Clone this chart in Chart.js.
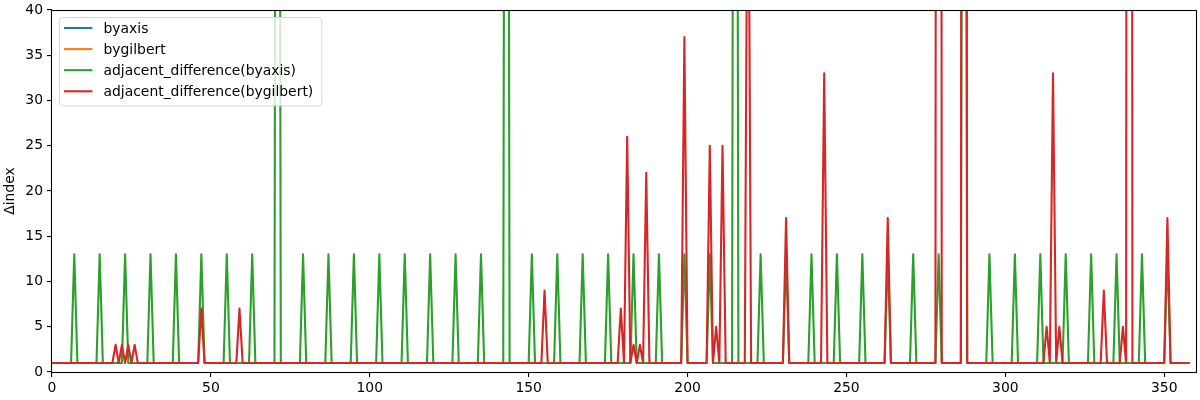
<!DOCTYPE html>
<html>
<head>
<meta charset="utf-8">
<script src="https://cdn.jsdelivr.net/npm/chart.js@4/dist/chart.umd.min.js"></script>
<style>
  html, body { margin: 0; padding: 0; background: #fff; }
  #wrap { width: 1200px; height: 400px; }
</style>
</head>
<body>
<div id="wrap"><canvas id="chart" width="1200" height="400"></canvas></div>
<script>
const FONT = 'DejaVu Sans';
const FS = 13.9;

const xTicks = [0, 50, 100, 150, 200, 250, 300, 350];
const yTicks = [0, 5, 10, 15, 20, 25, 30, 35, 40];

// raw index series: they sit far above the 0..40 window, none of them is visible
const byaxis = [];
const bygilbert = [];

// one value per step, 0..358
const diffByaxis = [
  1,1,1,1,1,1,1,13,1,1,1,1,1,1,1,13,1,1,1,1,
  1,1,1,13,1,1,1,1,1,1,1,13,1,1,1,1,1,1,1,13,
  1,1,1,1,1,1,1,13,1,1,1,1,1,1,1,13,1,1,1,1,
  1,1,1,13,1,1,1,1,1,1,1,200,1,1,1,1,1,1,1,13,
  1,1,1,1,1,1,1,13,1,1,1,1,1,1,1,13,1,1,1,1,
  1,1,1,13,1,1,1,1,1,1,1,13,1,1,1,1,1,1,1,13,
  1,1,1,1,1,1,1,13,1,1,1,1,1,1,1,13,1,1,1,1,
  1,1,1,200,1,1,1,1,1,1,1,13,1,1,1,1,1,1,1,13,
  1,1,1,1,1,1,1,13,1,1,1,1,1,1,1,13,1,1,1,1,
  1,1,1,13,1,1,1,1,1,1,1,13,1,1,1,1,1,1,1,13,
  1,1,1,1,1,1,1,13,1,1,1,1,1,1,1,200,1,1,1,1,
  1,1,1,13,1,1,1,1,1,1,1,13,1,1,1,1,1,1,1,13,
  1,1,1,1,1,1,1,13,1,1,1,1,1,1,1,13,1,1,1,1,
  1,1,1,13,1,1,1,1,1,1,1,13,1,1,1,1,1,1,1,13,
  1,1,1,1,1,1,1,200,1,1,1,1,1,1,1,13,1,1,1,1,
  1,1,1,13,1,1,1,1,1,1,1,13,1,1,1,1,1,1,1,13,
  1,1,1,1,1,1,1,13,1,1,1,1,1,1,1,13,1,1,1,1,
  1,1,1,13,1,1,1,1,1,1,1,13,1,1,1,1,1,1,1
];

const diffBygilbert = [
  1,1,1,1,1,1,1,1,1,1,1,1,1,1,1,1,1,1,1,1,
  3,1,3,1,3,1,3,1,1,1,1,1,1,1,1,1,1,1,1,1,
  1,1,1,1,1,1,1,7,1,1,1,1,1,1,1,1,1,1,1,7,
  1,1,1,1,1,1,1,1,1,1,1,1,1,1,1,1,1,1,1,1,
  1,1,1,1,1,1,1,1,1,1,1,1,1,1,1,1,1,1,1,1,
  1,1,1,1,1,1,1,1,1,1,1,1,1,1,1,1,1,1,1,1,
  1,1,1,1,1,1,1,1,1,1,1,1,1,1,1,1,1,1,1,1,
  1,1,1,1,1,1,1,1,1,1,1,1,1,1,1,9,1,1,1,1,
  1,1,1,1,1,1,1,1,1,1,1,1,1,1,1,1,1,1,1,7,
  1,26,1,3,1,3,1,22,1,1,1,1,1,1,1,1,1,1,1,37,
  1,1,1,1,1,1,1,25,1,5,1,25,1,1,1,1,1,1,1,70,
  1,1,1,1,1,1,1,1,1,1,1,17,1,1,1,1,1,1,1,1,
  1,1,1,33,1,1,1,1,1,1,1,1,1,1,1,1,1,1,1,1,
  1,1,1,17,1,1,1,1,1,1,1,1,1,1,1,1,1,1,1,500,
  1,1,1,1,1,1,1,300,1,1,1,1,1,1,1,1,1,1,1,1,
  1,1,1,1,1,1,1,1,1,1,1,1,1,5,1,33,1,5,1,1,
  1,1,1,1,1,1,1,1,1,1,1,9,1,1,1,1,1,5,1,500,
  1,1,1,1,1,1,1,1,1,1,1,17,1,1,1,1,1,1,1
];

function toPoints(values) {
  return values.map((v, i) => ({ x: i, y: v }));
}

function lineSet(label, values, color, order) {
  return {
    label: label,
    data: toPoints(values),
    borderColor: color,
    backgroundColor: color,
    borderWidth: 2.1,
    borderJoinStyle: 'round',
    pointRadius: 0,
    tension: 0,
    fill: false,
    clip: 0,
    order: order
  };
}

// matplotlib-like full frame, drawn over the lines
const framePlugin = {
  id: 'frame',
  afterDatasetsDraw(chart) {
    const a = chart.chartArea;
    const ctx = chart.ctx;
    ctx.save();
    ctx.strokeStyle = '#000';
    ctx.lineWidth = 1.1;
    ctx.strokeRect(Math.round(a.left) - 0.5, Math.round(a.top) + 0.5,
      Math.round(a.right - a.left) + 1, Math.round(a.bottom - a.top));
    ctx.restore();
  }
};

// legend box inside the axes, upper left
const boxLegend = {
  id: 'boxLegend',
  afterDraw(chart) {
    const a = chart.chartArea;
    const ctx = chart.ctx;
    const sets = chart.data.datasets;
    ctx.save();
    ctx.font = FS + 'px "' + FONT + '"';
    let maxW = 0;
    sets.forEach(d => { maxW = Math.max(maxW, ctx.measureText(d.label).width); });
    const left = a.left + 7, top = a.top + 7;
    const rowH = 21.1;
    const textX = left + 44.5;
    const w = 44.5 + maxW + 8;
    const h = 11 + rowH * (sets.length - 1) + 14;
    ctx.beginPath();
    ctx.roundRect(left + 0.5, top + 0.5, w, h, 3);
    ctx.fillStyle = 'rgba(255,255,255,0.8)';
    ctx.fill();
    ctx.strokeStyle = '#d6d6d6';
    ctx.lineWidth = 1;
    ctx.stroke();
    sets.forEach((d, i) => {
      const y = top + 11 + i * rowH;
      ctx.beginPath();
      ctx.moveTo(left + 5, y);
      ctx.lineTo(left + 33.4, y);
      ctx.strokeStyle = d.borderColor;
      ctx.lineWidth = 2.1;
      ctx.stroke();
      ctx.fillStyle = '#000';
      ctx.textBaseline = 'middle';
      ctx.textAlign = 'left';
      ctx.fillText(d.label, textX, y + 1);
    });
    ctx.restore();
  }
};

Chart.defaults.font.family = FONT;
Chart.defaults.font.size = FS;
Chart.defaults.color = '#000';

new Chart(document.getElementById('chart'), {
  type: 'line',
  data: {
    datasets: [
      lineSet('byaxis', byaxis, '#1f77b4', 4),
      lineSet('bygilbert', bygilbert, '#ff7f0e', 3),
      lineSet('adjacent_difference(byaxis)', diffByaxis, '#2ca02c', 2),
      lineSet('adjacent_difference(bygilbert)', diffBygilbert, '#d62728', 1)
    ]
  },
  options: {
    responsive: false,
    animation: false,
    devicePixelRatio: 1,
    layout: { padding: { top: 10, right: 4, left: 0, bottom: 0 } },
    plugins: {
      legend: { display: false },
      tooltip: { enabled: false }
    },
    scales: {
      x: {
        type: 'linear',
        min: 0,
        max: 360,
        afterBuildTicks: s => { s.ticks = xTicks.map(v => ({ value: v })); },
        afterFit: s => { s.height = 28; s.paddingLeft = 0; s.paddingRight = 0; },
        grid: { drawOnChartArea: false, drawTicks: true, tickLength: 5, color: '#000', lineWidth: 1.1 },
        border: { display: false },
        ticks: { color: '#000', padding: 3, maxRotation: 0, autoSkip: false }
      },
      y: {
        type: 'linear',
        min: 0,
        max: 40,
        afterBuildTicks: s => { s.ticks = yTicks.map(v => ({ value: v })); },
        afterFit: s => { s.width = 52; s.paddingTop = 0; s.paddingBottom = 0; },
        grid: { drawOnChartArea: false, drawTicks: true, tickLength: 5, color: '#000', lineWidth: 1.1 },
        border: { display: false },
        ticks: { color: '#000', padding: 4, autoSkip: false },
        title: { display: true, text: 'Δindex', color: '#000', padding: { top: 2, bottom: 0 } }
      }
    }
  },
  plugins: [framePlugin, boxLegend]
});
</script>
</body>
</html>
